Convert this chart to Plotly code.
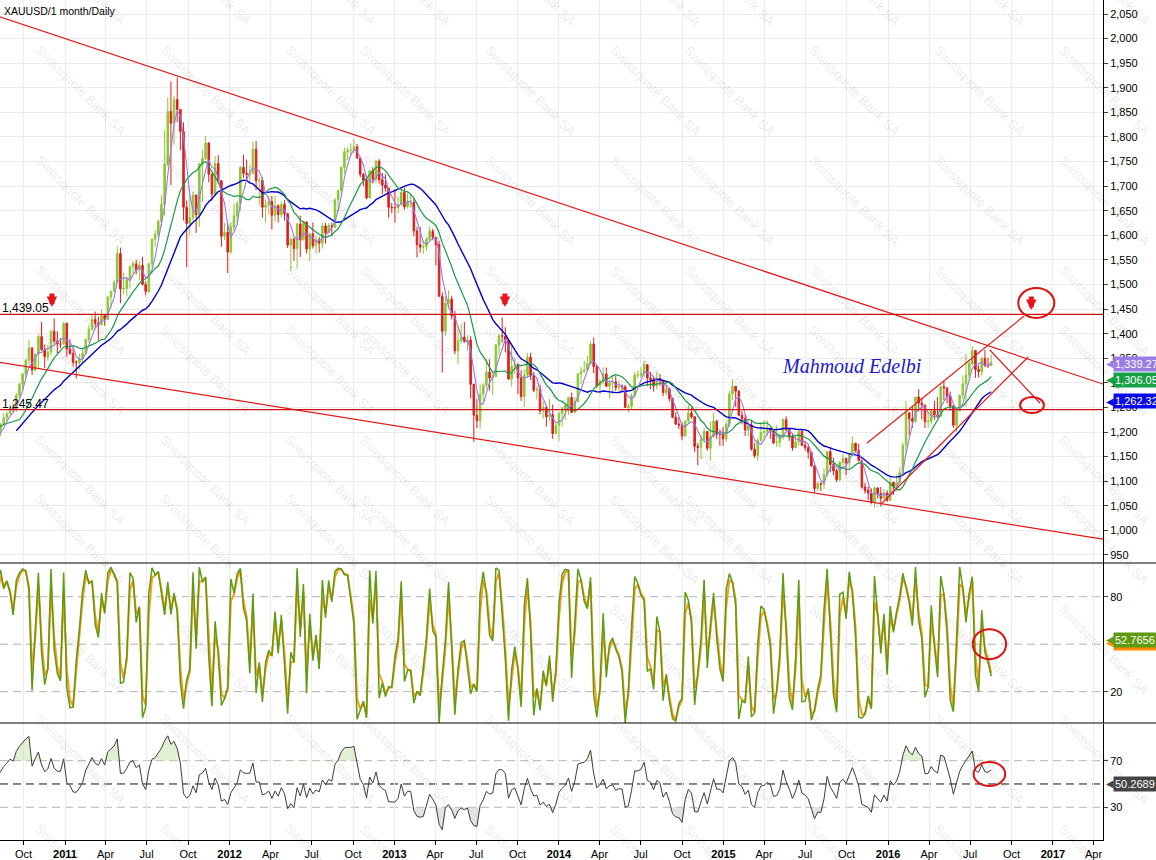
import numpy as np
import pandas as pd
import plotly.graph_objects as go
from plotly.subplots import make_subplots

# ---------------- weekly XAUUSD data (week ending Friday) ----------------
start_2010 = "2010-03-26"
close_2010 = [1105, 1125, 1161, 1136, 1142, 1180, 1209, 1228, 1177, 1213, 1219, 1229, 1256, 1256,
              1208, 1210, 1189, 1189, 1181, 1204, 1216, 1229, 1237, 1248, 1246, 1275, 1297,
              1318, 1346, 1371, 1326, 1358, 1394, 1368, 1353, 1363, 1405, 1385, 1379, 1379, 1421]
high_2010 = [1110, 1128, 1165, 1168, 1152, 1180, 1212, 1249, 1234, 1217, 1227, 1236, 1262, 1261,
             1258, 1215, 1215, 1205, 1198, 1210, 1218, 1238, 1242, 1255, 1258, 1279, 1300,
             1320, 1349, 1387, 1372, 1360, 1398, 1424, 1378, 1377, 1407, 1431, 1405, 1391, 1424]
low_2010 = [1088, 1103, 1124, 1130, 1129, 1142, 1165, 1195, 1166, 1180, 1195, 1202, 1225, 1230,
            1195, 1192, 1189, 1176, 1155, 1178, 1192, 1215, 1220, 1240, 1240, 1241, 1268,
            1285, 1310, 1338, 1316, 1323, 1330, 1365, 1330, 1345, 1355, 1380, 1360, 1371, 1377]

start_2011 = "2011-01-07"
close_2011 = [1369, 1360, 1342, 1341, 1349, 1360, 1388, 1409, 1429, 1421, 1418, 1437,
              1429, 1474, 1486, 1504, 1563, 1491, 1492, 1510, 1536, 1542, 1529, 1539, 1500,
              1486, 1542, 1592, 1602, 1628, 1663, 1745, 1852, 1828, 1876, 1856, 1811, 1657, 1624,
              1636, 1682, 1642, 1745, 1756, 1788, 1724, 1684, 1746, 1711, 1598, 1606, 1566]
high_2011 = [1422, 1389, 1376, 1346, 1359, 1370, 1390, 1418, 1437, 1445, 1435, 1448,
             1440, 1477, 1487, 1509, 1577, 1575, 1524, 1514, 1539, 1548, 1550, 1548, 1556,
             1506, 1545, 1594, 1610, 1632, 1682, 1814, 1880, 1913, 1884, 1921, 1840, 1830, 1671,
             1682, 1689, 1678, 1747, 1774, 1802, 1788, 1726, 1761, 1763, 1712, 1625, 1623]
low_2011 = [1353, 1357, 1333, 1309, 1327, 1341, 1358, 1381, 1406, 1411, 1386, 1417,
            1416, 1429, 1451, 1484, 1502, 1462, 1480, 1476, 1492, 1522, 1521, 1508, 1498,
            1478, 1482, 1535, 1576, 1595, 1617, 1640, 1740, 1702, 1784, 1830, 1773, 1630, 1535,
            1600, 1629, 1605, 1617, 1668, 1753, 1708, 1670, 1681, 1704, 1577, 1590, 1523]

start_2012 = "2012-01-06"
close_2012 = [1617, 1640, 1664, 1738, 1726, 1724, 1725, 1775, 1711, 1712, 1657, 1662, 1669,
              1641, 1660, 1642, 1663, 1644, 1580, 1592, 1573, 1623, 1591, 1627, 1572, 1603,
              1579, 1591, 1584, 1619, 1605, 1620, 1616, 1672, 1691, 1738, 1770, 1773, 1773,
              1780, 1757, 1724, 1712, 1676, 1731, 1714, 1751, 1713, 1702, 1696, 1657, 1656]
high_2012 = [1626, 1665, 1670, 1741, 1764, 1754, 1743, 1790, 1792, 1718, 1718, 1672, 1680,
             1680, 1680, 1663, 1669, 1672, 1646, 1597, 1595, 1625, 1640, 1628, 1628, 1606,
             1626, 1600, 1597, 1625, 1625, 1625, 1626, 1675, 1693, 1741, 1778, 1779, 1787,
             1796, 1786, 1760, 1727, 1722, 1733, 1738, 1754, 1755, 1727, 1724, 1697, 1666]
low_2012 = [1562, 1608, 1626, 1650, 1717, 1712, 1707, 1729, 1692, 1662, 1636, 1627, 1643,
            1612, 1628, 1626, 1636, 1630, 1574, 1527, 1548, 1532, 1556, 1589, 1563, 1547,
            1573, 1562, 1565, 1573, 1583, 1605, 1598, 1618, 1648, 1685, 1726, 1753, 1759,
            1767, 1756, 1718, 1700, 1673, 1676, 1705, 1706, 1705, 1684, 1689, 1636, 1645]

start_2013 = "2013-01-04"
close_2013 = [1656, 1662, 1687, 1658, 1667, 1667, 1609, 1581, 1576, 1577, 1592, 1608, 1596,
              1581, 1476, 1405, 1462, 1470, 1436, 1365, 1386, 1393, 1383, 1387, 1297, 1234,
              1223, 1277, 1295, 1322, 1310, 1313, 1377, 1396, 1395, 1387, 1308, 1333, 1338,
              1310, 1272, 1316, 1352, 1315, 1285, 1287, 1243, 1250, 1231, 1235, 1197, 1213]
high_2013 = [1694, 1679, 1694, 1697, 1685, 1683, 1675, 1617, 1617, 1589, 1597, 1616, 1613,
             1592, 1589, 1484, 1476, 1488, 1477, 1446, 1415, 1420, 1424, 1397, 1395, 1298,
             1267, 1297, 1299, 1348, 1348, 1324, 1379, 1400, 1433, 1413, 1385, 1376, 1350,
             1337, 1326, 1327, 1361, 1361, 1322, 1293, 1296, 1262, 1254, 1267, 1256, 1218]
low_2013 = [1626, 1644, 1662, 1652, 1654, 1655, 1598, 1555, 1565, 1562, 1568, 1590, 1590,
            1539, 1476, 1321, 1395, 1453, 1429, 1358, 1338, 1380, 1382, 1366, 1268, 1180,
            1208, 1207, 1262, 1290, 1284, 1275, 1311, 1356, 1382, 1362, 1306, 1292, 1318,
            1277, 1263, 1251, 1310, 1306, 1281, 1266, 1236, 1227, 1211, 1222, 1186, 1196]

start_2014 = "2014-01-03"
close_2014 = [1238, 1247, 1254, 1270, 1240, 1262, 1318, 1323, 1326, 1339, 1379, 1333, 1294,
              1303, 1318, 1293, 1300, 1302, 1290, 1293, 1292, 1250, 1252, 1274, 1316, 1316,
              1320, 1337, 1310, 1307, 1294, 1309, 1305, 1280, 1287, 1268, 1230, 1216, 1214,
              1192, 1222, 1239, 1231, 1171, 1169, 1185, 1201, 1167, 1191, 1222, 1195, 1195]
high_2014 = [1240, 1251, 1256, 1272, 1280, 1271, 1320, 1332, 1345, 1355, 1384, 1392, 1336,
             1308, 1332, 1331, 1304, 1315, 1315, 1305, 1297, 1296, 1258, 1278, 1322, 1325,
             1332, 1345, 1338, 1322, 1312, 1322, 1318, 1305, 1296, 1290, 1270, 1240, 1230,
             1220, 1224, 1255, 1250, 1232, 1178, 1195, 1208, 1202, 1221, 1239, 1225, 1205]
low_2014 = [1182, 1212, 1224, 1235, 1238, 1238, 1262, 1297, 1320, 1330, 1337, 1320, 1290,
            1277, 1296, 1291, 1268, 1277, 1283, 1281, 1283, 1250, 1240, 1247, 1270, 1309,
            1311, 1312, 1293, 1287, 1282, 1286, 1294, 1273, 1275, 1262, 1228, 1215, 1206,
            1183, 1190, 1218, 1227, 1160, 1132, 1145, 1178, 1162, 1142, 1188, 1186, 1172]

start_2015 = "2015-01-02"
close_2015 = [1186, 1216, 1277, 1293, 1283, 1234, 1227, 1204, 1213, 1165, 1152, 1183, 1199,
              1201, 1207, 1203, 1178, 1179, 1189, 1225, 1205, 1190, 1168, 1180, 1201, 1173,
              1168, 1159, 1131, 1085, 1095, 1094, 1113, 1160, 1134, 1121, 1103, 1138, 1146,
              1137, 1156, 1177, 1162, 1142, 1088, 1081, 1076, 1057, 1086, 1075, 1065, 1076]
high_2015 = [1210, 1224, 1283, 1307, 1290, 1285, 1243, 1236, 1220, 1224, 1178, 1188, 1219,
             1224, 1224, 1209, 1206, 1214, 1196, 1228, 1232, 1206, 1196, 1194, 1205, 1205,
             1180, 1173, 1160, 1133, 1100, 1098, 1126, 1162, 1170, 1147, 1125, 1141, 1156,
             1148, 1158, 1191, 1178, 1176, 1143, 1097, 1089, 1085, 1089, 1088, 1088, 1084]
low_2015 = [1172, 1180, 1211, 1265, 1251, 1232, 1216, 1192, 1191, 1162, 1147, 1142, 1180,
            1183, 1192, 1186, 1175, 1170, 1169, 1184, 1201, 1182, 1162, 1170, 1172, 1171,
            1162, 1146, 1130, 1077, 1080, 1080, 1084, 1110, 1118, 1112, 1098, 1100, 1124,
            1112, 1127, 1152, 1160, 1140, 1085, 1075, 1062, 1053, 1046, 1065, 1049, 1065]

start_2016 = "2016-01-01"
close_2016 = [1061, 1098, 1089, 1097, 1117, 1173, 1239, 1227, 1222, 1271, 1259, 1255, 1221,
              1222, 1243, 1235, 1232, 1292, 1290, 1273, 1252, 1214, 1243, 1275, 1298, 1316,
              1339, 1366, 1327, 1323, 1350, 1336, 1335, 1341]
high_2016 = [1082, 1112, 1098, 1112, 1128, 1178, 1263, 1240, 1253, 1272, 1287, 1269, 1254,
             1243, 1245, 1263, 1271, 1297, 1304, 1279, 1282, 1255, 1244, 1276, 1315, 1358,
             1343, 1375, 1358, 1336, 1352, 1367, 1351, 1358]
low_2016 = [1058, 1061, 1072, 1080, 1095, 1110, 1156, 1193, 1208, 1218, 1242, 1226, 1208,
            1209, 1216, 1225, 1228, 1233, 1265, 1258, 1243, 1208, 1200, 1242, 1267, 1251,
            1306, 1334, 1310, 1311, 1315, 1332, 1330, 1334]

# x axis ticks
tick_dates = ["2010-10-01", "2011-01-01", "2011-04-01", "2011-07-01", "2011-10-01",
              "2012-01-01", "2012-04-01", "2012-07-01", "2012-10-01", "2013-01-01",
              "2013-04-01", "2013-07-01", "2013-10-01", "2014-01-01", "2014-04-01",
              "2014-07-01", "2014-10-01", "2015-01-01", "2015-04-01", "2015-07-01",
              "2015-10-01", "2016-01-01", "2016-04-01", "2016-07-01", "2016-10-01",
              "2017-01-01", "2017-04-01"]
tick_labels = ["Oct", "<b>2011</b>", "Apr", "Jul", "Oct", "<b>2012</b>", "Apr", "Jul", "Oct",
               "<b>2013</b>", "Apr", "Jul", "Oct", "<b>2014</b>", "Apr", "Jul", "Oct",
               "<b>2015</b>", "Apr", "Jul", "Oct", "<b>2016</b>", "Apr", "Jul", "Oct",
               "<b>2017</b>", "Apr"]
price_ticks = list(range(950, 2051, 50))

# analyst drawings (date, price)
upper_trend_x = ["2010-08-09", "2017-04-22"]
upper_trend_y = [2044.5, 1297.6]
lower_trend_x = ["2010-08-09", "2017-04-22"]
lower_trend_y = [1341.8, 982.0]
level_values = [1439.05, 1245.47]
level_labels = ["1,439.05", "1,245.47"]
channel_up_x = ["2015-11-15", "2016-10-29"]
channel_up_y = [1177.1, 1436.0]
channel_lo_x = ["2015-12-19", "2016-11-07"]
channel_lo_y = [1055.7, 1352.6]
drop_line_x = ["2016-08-14", "2016-12-03"]
drop_line_y = [1366.8, 1259.0]
arrow_x = ["2010-12-03", "2013-09-03", "2016-11-14"]
arrow_y = [1454.0, 1454.0, 1448.0]

tag_price_vals = [1339.27, 1306.05, 1262.32]
tag_price_text = ["1,339.27", "1,306.05", "1,262.32"]
stoch_tag_vals = [51.0, 52.7656]
stoch_tag_text = ["51.8257", "52.7656"]
rsi_tag_val = 50.2689

# ---------------- assemble ----------------
frames = []
for st, c, h, l in [(start_2010, close_2010, high_2010, low_2010),
                    (start_2011, close_2011, high_2011, low_2011),
                    (start_2012, close_2012, high_2012, low_2012),
                    (start_2013, close_2013, high_2013, low_2013),
                    (start_2014, close_2014, high_2014, low_2014),
                    (start_2015, close_2015, high_2015, low_2015),
                    (start_2016, close_2016, high_2016, low_2016)]:
    n = min(len(c), len(h), len(l))
    d = pd.date_range(st, periods=n, freq="W-FRI")
    frames.append(pd.DataFrame({"date": d, "close": c[:n], "high": h[:n], "low": l[:n]}))
df = pd.concat(frames, ignore_index=True)
df["open"] = df["close"].shift(1).fillna(df["close"])
df["high"] = df[["high", "open", "close"]].max(axis=1)
df["low"] = df[["low", "open", "close"]].min(axis=1)
xs = df["date"] - pd.Timedelta(days=2)

ma_fast = df["close"].rolling(4).mean()
ma_mid = df["close"].rolling(13).mean()
ma_slow = df["close"].rolling(26).mean()

p = 3
ll = df["low"].rolling(p).min()
hh = df["high"].rolling(p).max()
stoch_k = 100 * (df["close"] - ll) / (hh - ll)
stoch_d = stoch_k.ewm(alpha=0.8, adjust=False).mean()

delta = df["close"].diff()
gain = delta.clip(lower=0)
loss = -delta.clip(upper=0)
n_rsi = 7
ag = gain.ewm(alpha=1 / n_rsi, adjust=False).mean()
al = loss.ewm(alpha=1 / n_rsi, adjust=False).mean()
rsi = 100 - 100 / (1 + ag / al)

# ---------------- figure ----------------
fig = make_subplots(rows=3, cols=1, shared_xaxes=True, vertical_spacing=0)

fig.add_trace(go.Candlestick(x=xs, open=df["open"], high=df["high"], low=df["low"], close=df["close"],
                             increasing=dict(line=dict(color="#8cc832", width=1), fillcolor="#8cc832"),
                             decreasing=dict(line=dict(color="#dd1f1f", width=1), fillcolor="#dd1f1f"),
                             whiskerwidth=0, showlegend=False), row=1, col=1)
fig.add_trace(go.Scatter(x=xs, y=ma_slow, mode="lines", line=dict(color="#0000cc", width=1.4),
                         showlegend=False), row=1, col=1)
fig.add_trace(go.Scatter(x=xs, y=ma_mid, mode="lines", line=dict(color="#179a48", width=1.2),
                         showlegend=False), row=1, col=1)
fig.add_trace(go.Scatter(x=xs, y=ma_fast, mode="lines", line=dict(color="#9a78e8", width=1.1),
                         showlegend=False), row=1, col=1)

red = "#e31b1b"
for lx, ly in [(upper_trend_x, upper_trend_y), (lower_trend_x, lower_trend_y),
               (channel_up_x, channel_up_y), (channel_lo_x, channel_lo_y),
               (drop_line_x, drop_line_y)]:
    fig.add_trace(go.Scatter(x=lx, y=ly, mode="lines", line=dict(color=red, width=1.2),
                             showlegend=False), row=1, col=1)
for v in level_values:
    fig.add_trace(go.Scatter(x=upper_trend_x, y=[v, v], mode="lines",
                             line=dict(color="#cc1111", width=1.3), showlegend=False), row=1, col=1)

# stochastic
fig.add_trace(go.Scatter(x=xs, y=stoch_d, mode="lines", line=dict(color="#ff9a1a", width=2.0),
                         showlegend=False), row=2, col=1)
fig.add_trace(go.Scatter(x=xs, y=stoch_k, mode="lines", line=dict(color="#5f9a10", width=1.5),
                         showlegend=False), row=2, col=1)

# rsi with zone fills
fig.add_trace(go.Scatter(x=xs, y=[70] * len(xs), mode="lines", line=dict(width=0),
                         showlegend=False, hoverinfo="skip"), row=3, col=1)
fig.add_trace(go.Scatter(x=xs, y=np.maximum(rsi, 70), mode="lines", line=dict(width=0),
                         fill="tonexty", fillcolor="rgba(190,225,160,0.45)",
                         showlegend=False, hoverinfo="skip"), row=3, col=1)
fig.add_trace(go.Scatter(x=xs, y=[30] * len(xs), mode="lines", line=dict(width=0),
                         showlegend=False, hoverinfo="skip"), row=3, col=1)
fig.add_trace(go.Scatter(x=xs, y=np.minimum(rsi, 30), mode="lines", line=dict(width=0),
                         fill="tonexty", fillcolor="rgba(200,200,200,0.5)",
                         showlegend=False, hoverinfo="skip"), row=3, col=1)
fig.add_trace(go.Scatter(x=xs, y=rsi, mode="lines", line=dict(color="#3c3c3c", width=1),
                         showlegend=False), row=3, col=1)

font = "Liberation Sans, Arial, sans-serif"
grid = "#ececec"
x_range = ["2010-08-09 19:00", "2017-04-22"]
for r in (1, 2, 3):
    fig.update_xaxes(row=r, col=1, range=x_range, tickvals=tick_dates, ticktext=tick_labels,
                     showgrid=True, gridcolor=grid, gridwidth=1, zeroline=False,
                     rangeslider_visible=False, showticklabels=(r == 3),
                     ticks="outside" if r == 3 else "", ticklen=4, tickcolor="black",
                     showline=(r == 3), linecolor="black", linewidth=1,
                     tickfont=dict(family=font, size=11, color="black"))

fig.update_layout(
    width=1156, height=860, plot_bgcolor="white", paper_bgcolor="white",
    margin=dict(l=0, r=53, t=0, b=20, autoexpand=False),
    showlegend=False, font=dict(family=font, size=11, color="black"),
    yaxis=dict(domain=[0.3298, 1], range=[933.7, 2078.5], side="right", tickvals=price_ticks,
               tickformat=",d", showgrid=True, gridcolor=grid, ticks="outside", ticklen=4,
               showline=True, linecolor="black", zeroline=False,
               tickfont=dict(family=font, size=11, color="black")),
    yaxis2=dict(domain=[0.1393, 0.3298], range=[0.2, 101.3], side="right", tickvals=[20, 80],
                showgrid=False, ticks="outside", ticklen=4, showline=True, linecolor="black",
                zeroline=False, tickfont=dict(family=font, size=11, color="black")),
    yaxis3=dict(domain=[0.0, 0.1381], range=[1.9, 101.5], side="right", tickvals=[30, 70],
                showgrid=False, ticks="outside", ticklen=4, showline=True, linecolor="black",
                zeroline=False, tickfont=dict(family=font, size=11, color="black")),
)

shapes = []
for yv in (20, 50, 80):
    shapes.append(dict(type="line", xref="x2 domain", yref="y2", x0=0, x1=1, y0=yv, y1=yv,
                       line=dict(color="#b4b4b4", width=1, dash="8px,5px"), layer="below"))
for yv, col in ((30, "#b4b4b4"), (70, "#b4b4b4"), (50, "#111111")):
    shapes.append(dict(type="line", xref="x3 domain", yref="y3", x0=0, x1=1, y0=yv, y1=yv,
                       line=dict(color=col, width=1, dash="8px,5px"), layer="below"))
# panel separators
for yp in (1 - 563 / 840, 1 - 723 / 840):
    shapes.append(dict(type="line", xref="paper", yref="paper", x0=0, x1=1156 / 1103,
                       y0=yp, y1=yp, line=dict(color="black", width=1.2)))
# circles
shapes.append(dict(type="circle", xref="x", yref="y", x0="2016-10-16", x1="2017-01-04",
                   y0=1431.9, y1=1492.9, line=dict(color="#e01010", width=2)))
shapes.append(dict(type="circle", xref="x", yref="y", x0="2016-10-20", x1="2016-12-12",
                   y0=1238.7, y1=1271.2, line=dict(color="#e01010", width=2)))
shapes.append(dict(type="circle", xref="x2", yref="y2", x0="2016-07-07", x1="2016-09-19",
                   y0=40.5, y1=59.5, line=dict(color="#e01010", width=2)))
shapes.append(dict(type="circle", xref="x3", yref="y3", x0="2016-07-09", x1="2016-09-17",
                   y0=48.3, y1=68.9, line=dict(color="#e01010", width=2)))
fig.update_layout(shapes=shapes)

ann = []
# watermark
for i in range(-1, 11):
    for j in range(-1, 9):
        cx = 30 + i * 125
        cy = 40 + j * 110
        ann.append(dict(text="Swissquote Bank SA", xref="paper", yref="paper",
                        x=cx / 1103, y=1 - cy / 840, showarrow=False, textangle=45,
                        font=dict(family=font, size=13, color="rgba(0,0,0,0.10)")))
ann.append(dict(text="XAUUSD/1 month/Daily", xref="paper", yref="paper", x=0.0015,
                y=1 - 11 / 840, xanchor="left", yanchor="middle", showarrow=False,
                font=dict(family=font, size=10.5, color="black")))
for v, t in zip(level_values, level_labels):
    ann.append(dict(text=t, xref="paper", yref="y", x=0.0, y=v, xanchor="left", yanchor="bottom",
                    yshift=-3, showarrow=False, font=dict(family=font, size=12, color="black")))
for ax_, ay_ in zip(arrow_x, arrow_y):
    ann.append(dict(text="", x=ax_, y=ay_, xref="x", yref="y", showarrow=True, ax=0, ay=-15,
                    arrowhead=2, arrowsize=0.42, arrowwidth=5, arrowcolor="#e8141c"))
ann.append(dict(text="<i>Mahmoud Edelbi</i>", x="2015-10-11", y=1334.3, xref="x", yref="y",
                showarrow=False, font=dict(family="Liberation Serif, serif", size=20,
                                           color="#1a1ad0")))
# value tags
tag_cols = ["#9a7ee6", "#17a048", "#0a0ae8"]
for v, t, c in zip(tag_price_vals, tag_price_text, tag_cols):
    ann.append(dict(text="◀", xref="paper", yref="y", x=1 + 1 / 1103, y=v, xanchor="left",
                    showarrow=False, font=dict(size=10, color=c)))
    ann.append(dict(text=t, xref="paper", yref="y", x=1 + 10 / 1103, y=v, xanchor="left",
                    showarrow=False, bgcolor=c, borderpad=1, width=44, align="left",
                    font=dict(family=font, size=11, color="white")))
for v, t, c in zip(stoch_tag_vals, stoch_tag_text, ["#ff8c00", "#5f9a10"]):
    ann.append(dict(text="◀", xref="paper", yref="y2", x=1 + 1 / 1103, y=v, xanchor="left",
                    showarrow=False, font=dict(size=10, color=c)))
    ann.append(dict(text=t, xref="paper", yref="y2", x=1 + 10 / 1103, y=v, xanchor="left",
                    showarrow=False, bgcolor=c, borderpad=1, width=44, align="left",
                    font=dict(family=font, size=11, color="white")))
ann.append(dict(text="◀", xref="paper", yref="y3", x=1 + 1 / 1103, y=rsi_tag_val, xanchor="left",
                showarrow=False, font=dict(size=10, color="#444444")))
ann.append(dict(text="50.2689", xref="paper", yref="y3", x=1 + 10 / 1103, y=rsi_tag_val,
                xanchor="left", showarrow=False, bgcolor="#444444", borderpad=1, width=44,
                align="left", font=dict(family=font, size=11, color="white")))
fig.update_layout(annotations=ann)

fig.write_html("out.html")
